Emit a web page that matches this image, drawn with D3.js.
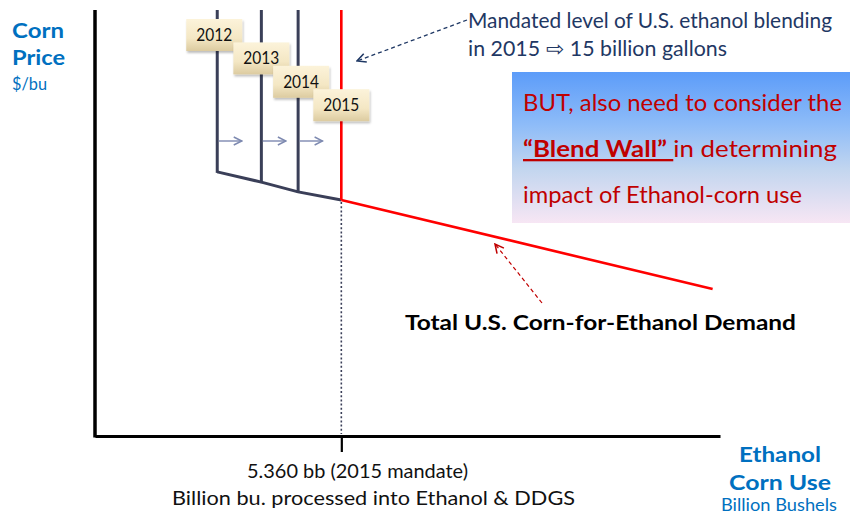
<!DOCTYPE html>
<html>
<head>
<meta charset="utf-8">
<script src="https://cdn.jsdelivr.net/npm/d3@7/dist/d3.min.js"></script>
<style>
  html, body { margin: 0; padding: 0; background: #fff; }
  svg { display: block; }
  text { font-family: "Lato", "Open Sans", sans-serif; }
</style>
</head>
<body>
<svg id="chart" width="850" height="518"></svg>
<script>
// Mandated corn-for-ethanol use by year (billion bushels) and the price on the demand curve there
const years = ["2012", "2013", "2014", "2015"];
const mandateUse = [2.66, 3.62, 4.42, 5.36];
const mandatePrice = [6.20, 5.96, 5.73, 5.54];

// Total corn-for-ethanol demand curve beyond the 2015 mandate
const demandUse = [5.36, 13.44];
const demandPrice = [5.54, 3.45];

// Axis tick for the 2015 mandate
const tickValues = [5.36];
const tickLabels = ["5.360 bb (2015 mandate)"];

const svg = d3.select("#chart");

const x = d3.scaleLinear().domain([0, 13.6]).range([95, 720]);
const y = d3.scaleLinear().domain([0, 10]).range([436, 10]);

const navy = "#3a3f58";
const red = "#ff0000";
const blue = "#0070c0";

const defs = svg.append("defs");

// Arrow markers
function marker(id, color, w) {
  defs.append("marker")
    .attr("id", id).attr("viewBox", "0 0 10 10")
    .attr("refX", 9).attr("refY", 5)
    .attr("markerWidth", w).attr("markerHeight", w)
    .attr("markerUnits", "userSpaceOnUse")
    .attr("orient", "auto")
    .append("path").attr("d", "M1,1 L9,5 L1,9")
    .attr("fill", "none").attr("stroke", color).attr("stroke-width", 1.4);
}
marker("arrGray", "#7d89b0", 10);
marker("arrNavy", "#1f3864", 11);
marker("arrRed", "#c00000", 11);

// Gradients
const boxGrad = defs.append("linearGradient").attr("id", "boxGrad")
  .attr("x1", 0).attr("y1", 0).attr("x2", 0).attr("y2", 1);
boxGrad.append("stop").attr("offset", "0%").attr("stop-color", "#fcf3da");
boxGrad.append("stop").attr("offset", "60%").attr("stop-color", "#f4e7c4");
boxGrad.append("stop").attr("offset", "100%").attr("stop-color", "#dccba0");

const noteGrad = defs.append("linearGradient").attr("id", "noteGrad")
  .attr("x1", 0).attr("y1", 0).attr("x2", 0).attr("y2", 1);
noteGrad.append("stop").attr("offset", "0%").attr("stop-color", "#5c9cf9");
noteGrad.append("stop").attr("offset", "35%").attr("stop-color", "#8ebcf8");
noteGrad.append("stop").attr("offset", "65%").attr("stop-color", "#c3d6ef");
noteGrad.append("stop").attr("offset", "100%").attr("stop-color", "#f7e6f4");

const shadow = defs.append("filter").attr("id", "shadow")
  .attr("x", "-20%").attr("y", "-20%").attr("width", "150%").attr("height", "160%");
shadow.append("feDropShadow").attr("dx", 1).attr("dy", 2)
  .attr("stdDeviation", 1.2).attr("flood-color", "#000").attr("flood-opacity", 0.25);

// Text helper: fixed width so each line keeps its set length
function label(px, py, size, str, opts = {}) {
  const t = svg.append("text").attr("x", px).attr("y", py)
    .attr("font-size", size).attr("fill", opts.fill || "#111")
    .attr("font-weight", opts.bold ? "bold" : null)
    .attr("text-anchor", opts.anchor || "start");
  if (opts.len) t.attr("textLength", opts.len).attr("lengthAdjust", "spacingAndGlyphs");
  if (str !== null) t.text(str);
  return t;
}

// Note box on the right
svg.append("rect").attr("x", 512).attr("y", 72).attr("width", 338).attr("height", 151)
  .attr("fill", "url(#noteGrad)");

// Axes
const xAxis = d3.axisBottom(x).tickValues(tickValues).tickFormat("")
  .tickSize(16).tickSizeOuter(0);
const gx = svg.append("g").attr("transform", `translate(0,${y(0)})`).call(xAxis);
gx.select(".domain").attr("stroke", "#000").attr("stroke-width", 3.2);
gx.selectAll(".tick line").attr("stroke", "#000").attr("stroke-width", 2.2);

const yAxis = d3.axisLeft(y).tickValues([]).tickSizeOuter(0);
const gy = svg.append("g").attr("transform", `translate(${x(0)},0)`).call(yAxis);
gy.select(".domain").attr("stroke", "#000").attr("stroke-width", 3.5)
  .attr("d", `M0,${y(10)}V${y(0) + 1.6}`);

// Dotted guide below the 2015 mandate
svg.append("line")
  .attr("x1", x(mandateUse[3])).attr("x2", x(mandateUse[3]))
  .attr("y1", y(mandatePrice[3]) + 2).attr("y2", y(0) - 2)
  .attr("stroke", "#3a3f58").attr("stroke-width", 1.6)
  .attr("stroke-dasharray", "2,2.2");

// Demand segment across the earlier mandates
svg.append("path")
  .attr("d", d3.line().x((d, i) => x(mandateUse[i])).y((d, i) => y(mandatePrice[i]))(mandateUse))
  .attr("fill", "none").attr("stroke", navy).attr("stroke-width", 3);

// Mandate verticals
years.forEach((yr, i) => {
  svg.append("line")
    .attr("x1", x(mandateUse[i])).attr("x2", x(mandateUse[i]))
    .attr("y1", y(10)).attr("y2", y(mandatePrice[i]) + (i < 3 ? 1 : 0))
    .attr("stroke", i === 3 ? red : navy).attr("stroke-width", i === 3 ? 2.6 : 3);
});

// Demand curve beyond the mandate
svg.append("path")
  .attr("d", d3.line().x(d => x(d)).y((d, i) => y(demandPrice[i]))(demandUse))
  .attr("fill", "none").attr("stroke", red).attr("stroke-width", 2.6);

// Shift arrows between mandate years
for (let i = 0; i < 3; i++) {
  const x0 = x(mandateUse[i]) + 1.5;
  svg.append("line")
    .attr("x1", x0).attr("x2", x0 + 23)
    .attr("y1", 141).attr("y2", 141)
    .attr("stroke", "#7d89b0").attr("stroke-width", 1.4)
    .attr("marker-end", "url(#arrGray)");
}

// Year labels
years.forEach((yr, i) => {
  const cx = x(mandateUse[i]) - (i === 0 ? 3 : i === 2 ? -3 : 0);
  const top = 19 + i * 23.4;
  const g = svg.append("g");
  g.append("rect").attr("x", cx - 28).attr("y", top).attr("width", 56).attr("height", 32)
    .attr("fill", "url(#boxGrad)").attr("filter", "url(#shadow)");
  g.append("text").attr("x", cx).attr("y", top + 22)
    .attr("text-anchor", "middle").attr("font-size", 17).attr("fill", "#111")
    .attr("textLength", 36).attr("lengthAdjust", "spacingAndGlyphs")
    .text(yr);
});

// Mandate note with dashed arrow
svg.append("line")
  .attr("x1", 467).attr("y1", 20).attr("x2", 357).attr("y2", 61)
  .attr("stroke", "#1f3864").attr("stroke-width", 1.3).attr("stroke-dasharray", "4,3")
  .attr("marker-end", "url(#arrNavy)");
label(468, 28, 20.5, "Mandated level of U.S. ethanol blending", { fill: "#1f3864", len: 364 });
label(468, 56, 20.5, "in 2015 \u21E8 15 billion gallons", { fill: "#1f3864", len: 259 });

// Blend wall note
const noteColor = "#c00000";
label(523, 111, 23, "BUT, also need to consider the", { fill: noteColor, len: 319 });
const l2 = label(523, 157, 23, null, { fill: noteColor, len: 314 });
l2.append("tspan").attr("font-weight", "bold").attr("text-decoration", "underline")
  .text("\u201CBlend Wall\u201D\u00A0");
l2.append("tspan").text("in determining");
label(523, 203, 23, "impact of Ethanol-corn use", { fill: noteColor, len: 279 });

// Demand curve label with dashed arrow
svg.append("line")
  .attr("x1", 542).attr("y1", 303).attr("x2", 495).attr("y2", 244)
  .attr("stroke", "#c00000").attr("stroke-width", 1.2).attr("stroke-dasharray", "4,3")
  .attr("marker-end", "url(#arrRed)");
label(405, 330, 21, "Total U.S. Corn-for-Ethanol Demand", { fill: "#000", bold: true, len: 391 });

// Y axis title
label(12, 38, 21, "Corn", { fill: blue, bold: true, len: 52 });
label(12, 65, 21, "Price", { fill: blue, bold: true, len: 53 });
label(12, 90, 17, "$/bu", { fill: blue, len: 35 });

// Tick label under the mandate
label(247, 478, 20, tickLabels[0], { len: 221 });
label(172, 505, 20, "Billion bu. processed into Ethanol & DDGS", { len: 403 });

// X axis title
label(780, 462, 21, "Ethanol", { fill: blue, bold: true, anchor: "middle", len: 82 });
label(780, 490, 21, "Corn Use", { fill: blue, bold: true, anchor: "middle", len: 102 });
label(779, 511, 16.5, "Billion Bushels", { fill: blue, anchor: "middle", len: 116 });
</script>
</body>
</html>
